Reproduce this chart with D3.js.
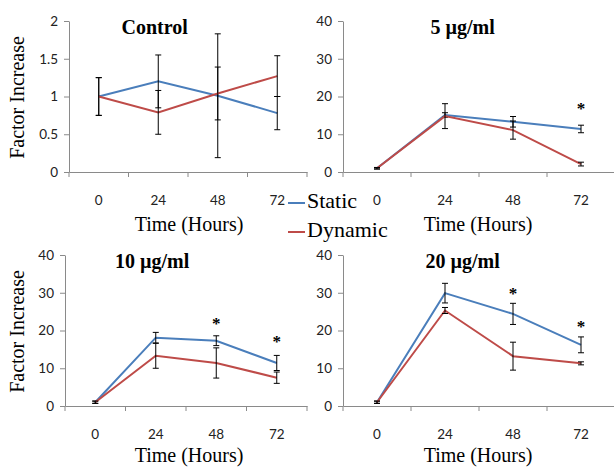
<!DOCTYPE html>
<html>
<head>
<meta charset="utf-8">
<script src="https://cdn.jsdelivr.net/npm/d3@7"></script>
<style>
  body { margin: 0; background: #fff; }
  svg { display: block; }
  .tick text { font-family: Lato, "Open Sans", sans-serif; font-size: 13.5px; fill: #222; }
  .serif { font-family: "Liberation Serif", "Times New Roman", serif; fill: #000; }
</style>
</head>
<body>
<div id="chart"></div>
<script>
// Chart values
const hours = ["0", "24", "48", "72"];
const panelTitles = ["Control", "5 µg/ml", "10 µg/ml", "20 µg/ml"];
const controlTicks = [0, 0.5, 1, 1.5, 2];
const doseTicks = [0, 10, 20, 30, 40];

const controlStatic = [1.0, 1.2, 1.01, 0.78];
const controlStaticErr = [0.25, 0.35, 0.82, 0.22];
const controlDynamic = [1.0, 0.79, 1.04, 1.27];
const controlDynamicErr = [0.25, 0.29, 0.35, 0.27];

const dose5Static = [1.0, 15.1, 13.3, 11.4];
const dose5StaticErr = [0.2, 0.6, 1.4, 1.0];
const dose5Dynamic = [1.0, 14.8, 11.1, 2.1];
const dose5DynamicErr = [0.2, 3.3, 2.4, 0.5];
const dose5Stars = [null, null, null, 17.5];

const dose10Static = [1.0, 18.1, 17.3, 11.4];
const dose10StaticErr = [0.3, 1.4, 1.3, 2.0];
const dose10Dynamic = [1.0, 13.3, 11.4, 7.5];
const dose10DynamicErr = [0.3, 3.3, 4.0, 1.5];
const dose10Stars = [null, null, 22.5, 17.7];

const dose20Static = [1.0, 29.9, 24.4, 16.2];
const dose20StaticErr = [0.3, 2.6, 2.8, 2.1];
const dose20Dynamic = [1.0, 25.3, 13.2, 11.3];
const dose20DynamicErr = [0.3, 0.8, 3.7, 0.4];
const dose20Stars = [null, null, 30.5, 21.7];

const staticColor = "#4a7ebb";
const dynamicColor = "#be4b48";
const axisColor = "#8a8a8a";

const svg = d3.select("#chart")
  .append("svg")
  .attr("width", 614)
  .attr("height", 467);

// panel frames (plot areas)
const panels = [
  { title: panelTitles[0], left: 69, right: 307, top: 21, bottom: 172, ticks: controlTicks, max: 2,
    st: controlStatic, stErr: controlStaticErr, dy: controlDynamic, dyErr: controlDynamicErr,
    stars: [null, null, null, null], yTitle: true, xTitleY: 231 },
  { title: panelTitles[1], left: 343, right: 615, top: 21, bottom: 172, ticks: doseTicks, max: 40,
    st: dose5Static, stErr: dose5StaticErr, dy: dose5Dynamic, dyErr: dose5DynamicErr,
    stars: dose5Stars, yTitle: false, xTitleY: 231 },
  { title: panelTitles[2], left: 65, right: 307, top: 255, bottom: 406, ticks: doseTicks, max: 40,
    st: dose10Static, stErr: dose10StaticErr, dy: dose10Dynamic, dyErr: dose10DynamicErr,
    stars: dose10Stars, yTitle: true, xTitleY: 462 },
  { title: panelTitles[3], left: 343, right: 615, top: 255, bottom: 406, ticks: doseTicks, max: 40,
    st: dose20Static, stErr: dose20StaticErr, dy: dose20Dynamic, dyErr: dose20DynamicErr,
    stars: dose20Stars, yTitle: false, xTitleY: 462 }
];

panels.forEach(function(p) {
  const g = svg.append("g");

  const x = d3.scaleBand().domain(hours).range([p.left, p.right]).padding(0);
  const y = d3.scaleLinear().domain([0, p.max]).range([p.bottom, p.top]);

  // y axis
  const yAxis = g.append("g")
    .attr("transform", `translate(${p.left},0)`)
    .call(d3.axisLeft(y).tickValues(p.ticks).tickFormat(d => d).tickSize(5).tickPadding(6).tickSizeOuter(0));
  yAxis.select(".domain").attr("stroke", axisColor);
  yAxis.selectAll(".tick line").attr("stroke", axisColor);

  // x axis
  const xAxis = g.append("g")
    .attr("transform", `translate(0,${p.bottom})`)
    .call(d3.axisBottom(x).tickSize(0).tickPadding(23).tickSizeOuter(0));
  xAxis.select(".domain").attr("stroke", axisColor);

  // boundary ticks between categories
  const bounds = hours.map(h => x(h)).concat([x(hours[hours.length - 1]) + x.bandwidth()]);
  g.selectAll(null)
    .data(bounds)
    .enter()
    .append("line")
    .attr("x1", d => d).attr("x2", d => d)
    .attr("y1", p.bottom).attr("y2", p.bottom + 5)
    .attr("stroke", axisColor);

  const cx = d => x(d) + x.bandwidth() / 2;

  function drawSeries(values, errs, color) {
    const pts = hours.map((h, i) => ({ h: h, v: values[i], e: errs[i] }));
    g.append("path")
      .datum(pts)
      .attr("fill", "none")
      .attr("stroke", color)
      .attr("stroke-width", 2)
      .attr("d", d3.line().x(d => cx(d.h)).y(d => y(d.v)));

    const eb = g.selectAll(null)
      .data(pts)
      .enter()
      .append("g")
      .attr("stroke", "#000")
      .attr("stroke-width", 1);
    eb.append("line")
      .attr("x1", d => cx(d.h)).attr("x2", d => cx(d.h))
      .attr("y1", d => y(d.v + d.e)).attr("y2", d => y(d.v - d.e));
    eb.append("line")
      .attr("x1", d => cx(d.h) - 3).attr("x2", d => cx(d.h) + 3)
      .attr("y1", d => y(d.v + d.e)).attr("y2", d => y(d.v + d.e));
    eb.append("line")
      .attr("x1", d => cx(d.h) - 3).attr("x2", d => cx(d.h) + 3)
      .attr("y1", d => y(d.v - d.e)).attr("y2", d => y(d.v - d.e));
  }

  drawSeries(p.st, p.stErr, staticColor);
  drawSeries(p.dy, p.dyErr, dynamicColor);

  // significance asterisks
  g.selectAll(null)
    .data(hours.map((h, i) => ({ h: h, v: p.stars[i] })).filter(d => d.v !== null))
    .enter()
    .append("text")
    .attr("class", "serif")
    .attr("x", d => cx(d.h))
    .attr("y", d => y(d.v) + 8)
    .attr("text-anchor", "middle")
    .attr("font-weight", "bold")
    .attr("font-size", 17)
    .text("*");

  // panel title
  g.append("text")
    .attr("class", "serif")
    .attr("x", p.left + (p.right - p.left) * (p.left < 100 ? 0.36 : 0.44))
    .attr("y", p.top + 13)
    .attr("text-anchor", "middle")
    .attr("font-weight", "bold")
    .attr("font-size", 20)
    .text(p.title);

  // x axis title
  g.append("text")
    .attr("class", "serif")
    .attr("x", p.left < 100 ? 189 : 478)
    .attr("y", p.xTitleY)
    .attr("text-anchor", "middle")
    .attr("font-size", 20)
    .text("Time (Hours)");

  if (p.yTitle) {
    g.append("text")
      .attr("class", "serif")
      .attr("transform", `translate(24,${(p.top + p.bottom) / 2 + 1}) rotate(-90)`)
      .attr("text-anchor", "middle")
      .attr("font-size", 20)
      .text("Factor Increase");
  }
});

// legend
const legendItems = ["Static", "Dynamic"];
const legendColors = [staticColor, dynamicColor];
const legend = svg.selectAll(".legend")
  .data(legendItems)
  .enter()
  .append("g")
  .attr("class", "legend")
  .attr("transform", (d, i) => `translate(288,${203 + i * 29})`);
legend.append("line")
  .attr("x1", 0).attr("x2", 17)
  .attr("stroke", (d, i) => legendColors[i])
  .attr("stroke-width", 2);
legend.append("text")
  .attr("class", "serif")
  .attr("x", 19)
  .attr("y", 5)
  .attr("font-size", 22)
  .text(d => d);
</script>
</body>
</html>
